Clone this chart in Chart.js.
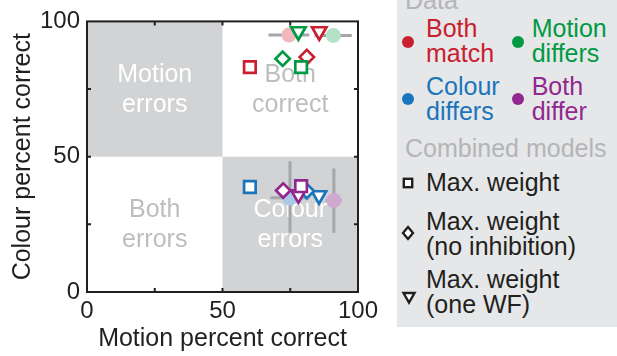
<!DOCTYPE html>
<html>
<head>
<meta charset="utf-8">
<script src="https://cdn.jsdelivr.net/npm/chart.js@4.4.1/dist/chart.umd.min.js"></script>
<style>
  html, body { margin: 0; padding: 0; background: #fff; overflow: hidden; }
  #wrap { position: relative; width: 617px; height: 356px; }
  #chart { position: absolute; left: 0; top: 0; }
  #legend {
    position: absolute; left: 397px; top: 0; width: 220px; height: 327px;
    background: #e6e7e8; overflow: hidden;
    font-family: "Liberation Sans", Arial, sans-serif; font-size: 25px; line-height: 24.5px; color: #231f20;
  }
  #legend .t { position: absolute; white-space: nowrap; }
  #legend .grey { color: #b3b5b8; }
  #legend .dot { position: absolute; width: 12px; height: 12px; border-radius: 50%; margin: -6px 0 0 -6px; }
  #legend svg { position: absolute; overflow: visible; }
</style>
</head>
<body>
<div id="wrap">
  <canvas id="chart" width="617" height="356"></canvas>
  <div id="legend">
    <div class="t grey" style="left:8px;top:-12.4px">Data</div>

    <div class="dot" style="left:11.3px;top:41.7px;background:#c8202f"></div>
    <div class="t" style="left:29px;top:16.4px;color:#c8202f">Both<br>match</div>
    <div class="dot" style="left:120.7px;top:41.7px;background:#009a44"></div>
    <div class="t" style="left:134.7px;top:16.4px;color:#009a44">Motion<br>differs</div>
    <div class="dot" style="left:11.3px;top:99px;background:#1b75bc"></div>
    <div class="t" style="left:29px;top:74.1px;color:#1b75bc">Colour<br>differs</div>
    <div class="dot" style="left:120.7px;top:99px;background:#92278f"></div>
    <div class="t" style="left:134.7px;top:74.1px;color:#92278f">Both<br>differ</div>

    <div class="t grey" style="left:8px;top:135.8px">Combined models</div>

    <svg style="left:11.3px;top:182.7px" width="1" height="1">
      <rect x="-4.2" y="-4.2" width="8.4" height="8.4" fill="#fff" stroke="#231f20" stroke-width="2.4"/>
    </svg>
    <div class="t" style="left:29px;top:169.8px">Max. weight</div>
    <svg style="left:11.3px;top:233.3px" width="1" height="1">
      <path d="M0,-6 L5,0 L0,6 L-5,0 Z" fill="#fff" stroke="#231f20" stroke-width="2.4"/>
    </svg>
    <div class="t" style="left:29px;top:209.1px">Max. weight<br>(no inhibition)</div>
    <svg style="left:12.3px;top:297.3px" width="1" height="1">
      <path d="M-5.5,-4 L5.5,-4 L0,5.5 Z" fill="#fff" stroke="#231f20" stroke-width="2.4"/>
    </svg>
    <div class="t" style="left:29px;top:267.4px">Max. weight<br>(one WF)</div>
  </div>
</div>
<script>
// ---- data (percent correct) ----
const conditions = ["Both match", "Motion differs", "Colour differs", "Both differ"];

// observed data (filled circles) with error bars
const dataMotion = [74.5, 90.9, 74.9, 91.1];
const dataColour = [95.0, 94.8, 34.8, 33.8];
const dataMotionLo = [67.0, 84.0, 67.7, 88.0];
const dataMotionHi = [82.0, 97.7, 82.0, 94.0];
const dataColourLo = [95.0, 94.8, 21.9, 21.9];
const dataColourHi = [95.0, 94.8, 48.3, 45.6];

// combined models (open markers)
const squareMotion = [60.1, 79.0, 60.1, 79.0];
const squareColour = [83.1, 83.1, 38.8, 39.1];
const diamondMotion = [81.1, 72.2, 81.1, 72.4];
const diamondColour = [86.8, 86.2, 37.3, 37.5];
const triangleMotion = [85.7, 78.0, 85.6, 78.0];
const triangleColour = [96.3, 96.3, 35.7, 36.0];

const tickValues = [0, 50, 100];
const minorTicks = [25, 50, 75];

const quadText = [["Motion", "errors"], ["Both", "correct"], ["Both", "errors"], ["Colour", "errors"]];
const quadX = [25, 75, 25, 75];
const quadY = [75, 75, 25, 25];

// ---- styles ----
const FONT = '"Liberation Sans", Arial, sans-serif';
const INK = "#231f20";
const condColours = ["#c8202f", "#009a44", "#1b75bc", "#92278f"];
const lightColours = ["#f2b9bd", "#b3e2c6", "#a9c9e6", "#cfa9cf"];
const quadFill = "#d1d3d4";
const quadInk = ["#ffffff", "#bcbec0", "#bcbec0", "#ffffff"];

Chart.defaults.font.family = FONT;
Chart.defaults.color = INK;

const datasets = [];

// error bars of the data
conditions.forEach((c, i) => {
  if (dataMotionHi[i] > dataMotionLo[i]) {
    datasets.push({
      data: [{ x: dataMotionLo[i], y: dataColour[i] }, { x: dataMotionHi[i], y: dataColour[i] }],
      showLine: true, borderColor: "#a4a6a9", borderWidth: 3, pointRadius: 0, order: 20
    });
  }
  if (dataColourHi[i] > dataColourLo[i]) {
    datasets.push({
      data: [{ x: dataMotion[i], y: dataColourLo[i] }, { x: dataMotion[i], y: dataColourHi[i] }],
      showLine: true, borderColor: "#a4a6a9", borderWidth: 3, pointRadius: 0, order: 20
    });
  }
});

// data circles
datasets.push({
  data: dataMotion.map((m, i) => ({ x: m, y: dataColour[i] })),
  pointStyle: "circle", pointRadius: 7.5, borderWidth: 0,
  backgroundColor: lightColours, order: 10
});

// model markers, one dataset per condition (triangle, diamond, square)
conditions.forEach((c, i) => {
  datasets.push({
    label: c,
    data: [
      { x: triangleMotion[i], y: triangleColour[i] },
      { x: diamondMotion[i], y: diamondColour[i] },
      { x: squareMotion[i], y: squareColour[i] }
    ],
    pointStyle: ["triangle", "rectRot", "rect"],
    rotation: [180, 0, 0],
    pointRadius: [8.3, 7.2, 8.2],
    borderColor: condColours[i],
    backgroundColor: "#ffffff",
    borderWidth: 2.7,
    order: 4 - i
  });
});

const quadrants = {
  id: "quadrants",
  beforeDatasetsDraw(chart) {
    const { ctx, scales: { x, y } } = chart;
    ctx.save();
    ctx.fillStyle = quadFill;
    const x0 = x.getPixelForValue(0), x5 = x.getPixelForValue(50), x1 = x.getPixelForValue(100);
    const y0 = y.getPixelForValue(0), y5 = y.getPixelForValue(50), y1 = y.getPixelForValue(100);
    ctx.fillRect(x0, y1, x5 - x0, y5 - y1);
    ctx.fillRect(x5, y5, x1 - x5, y0 - y5);
    ctx.font = "25px " + FONT;
    ctx.textAlign = "center";
    ctx.textBaseline = "alphabetic";
    quadText.forEach((lines, i) => {
      ctx.fillStyle = quadInk[i];
      const px = x.getPixelForValue(quadX[i]);
      const py = y.getPixelForValue(quadY[i]);
      ctx.fillText(lines[0], px, py - 7.5);
      ctx.fillText(lines[1], px, py + 22.5);
    });
    ctx.restore();
  },
  afterDraw(chart) {
    const { ctx, chartArea: a, scales: { x, y } } = chart;
    ctx.save();
    ctx.strokeStyle = INK;
    ctx.lineWidth = 2;
    ctx.strokeRect(a.left, a.top, a.right - a.left, a.bottom - a.top);
    ctx.beginPath();
    minorTicks.forEach(v => {
      const px = x.getPixelForValue(v), py = y.getPixelForValue(v);
      ctx.moveTo(px, a.bottom); ctx.lineTo(px, a.bottom - 4);
      ctx.moveTo(px, a.top); ctx.lineTo(px, a.top + 4);
      ctx.moveTo(a.left, py); ctx.lineTo(a.left + 4, py);
      ctx.moveTo(a.right, py); ctx.lineTo(a.right - 4, py);
    });
    ctx.stroke();
    ctx.restore();
  }
};

new Chart(document.getElementById("chart"), {
  type: "scatter",
  data: { datasets },
  options: {
    responsive: false,
    animation: false,
    layout: { padding: { top: 19, right: 259, left: 0, bottom: 0 } },
    plugins: { legend: { display: false }, tooltip: { enabled: false } },
    scales: {
      x: {
        type: "linear", min: 0, max: 100,
        afterBuildTicks: s => { s.ticks = tickValues.map(v => ({ value: v })); },
        afterFit: s => { s.height = 64; },
        grid: { display: false, drawTicks: false },
        border: { display: false },
        ticks: { padding: 5, color: INK, font: { size: 24 }, maxRotation: 0, autoSkip: false },
        title: { display: true, text: "Motion percent correct", color: INK, font: { size: 25 }, padding: { top: 0, bottom: 2 } }
      },
      y: {
        type: "linear", min: 0, max: 100,
        afterBuildTicks: s => { s.ticks = tickValues.map(v => ({ value: v })); },
        afterFit: s => { s.width = 87; },
        grid: { display: false, drawTicks: false },
        border: { display: false },
        ticks: { padding: 7, color: INK, font: { size: 24 }, autoSkip: false },
        title: { display: true, text: "Colour percent correct", color: INK, font: { size: 25 }, padding: { top: 8, bottom: 0 } }
      }
    }
  },
  plugins: [quadrants]
});
</script>
</body>
</html>
